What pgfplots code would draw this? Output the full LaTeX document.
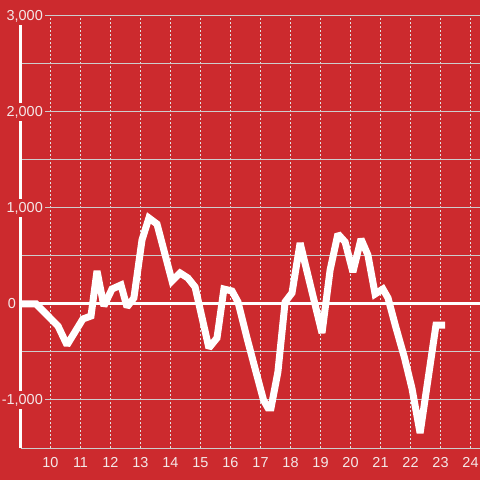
\documentclass[border=0pt]{standalone}
\usepackage{pgfplots}
\pgfplotsset{compat=1.18}
\usepackage{fontspec}
\setmainfont{Liberation Sans}
\definecolor{bgred}{RGB}{204,42,46}
\definecolor{gridgray}{RGB}{205,205,205}
\definecolor{dotgray}{RGB}{225,225,225}
\definecolor{labelc}{RGB}{244,232,232}
\begin{document}
\begin{tikzpicture}
\fill[bgred] (-20.5bp,-32bp) rectangle (459.5bp,448bp);
\begin{axis}[
    at={(0,0)}, anchor=south west,
    scale only axis,
    width=459.5bp, height=432bp,
    xmin=9, xmax=24.3167,
    ymin=-1500, ymax=3000,
    axis lines*=left,
    x axis line style={gridgray, line width=1bp},
    y axis line style={white, line width=3bp},
    tick style={draw=none},
    xtick={10,...,24},
    xticklabels={10,11,12,13,14,15,16,17,18,19,20,21,22,23,24},
    ytick={-1000,1000,2000,3000},
    yticklabels={{-1,000},{1,000},{2,000},{3,000}},
    minor ytick={-500,500,1500,2500},
    extra y ticks={0},
    extra y tick labels={0},
    extra tick style={
        y grid style={white, line width=3bp, solid},
        yticklabel style={xshift=-27bp},
    },
    xmajorgrids, ymajorgrids, yminorgrids,
    y grid style={gridgray, line width=1bp},
    x grid style={dotgray, line width=1bp, dash pattern=on 2bp off 2bp},
    tick label style={font=\fontsize{14.5}{17}\selectfont, text=labelc},
    xticklabel style={anchor=north, inner sep=0pt, yshift=-9bp},
    yticklabel style={anchor=east, fill=bgred, inner xsep=2bp, inner ysep=3bp, xshift=24.5bp},
]
\addplot[white, line width=7bp, line join=miter, miter limit=2] coordinates {
(9.00,0) (9.52,0) (10.25,-229) (10.55,-427) (11.08,-156) (11.35,-125)
(11.55,344) (11.78,-21) (12.05,156) (12.35,198) (12.55,-31) (12.78,63)
(13.05,667) (13.28,896) (13.55,833) (14.05,240) (14.32,323) (14.58,271)
(14.82,177) (15.28,-458) (15.55,-354) (15.78,156) (16.05,135) (16.25,21)
(16.55,-354) (16.80,-650) (17.10,-1000) (17.25,-1083) (17.35,-1083)
(17.58,-708) (17.82,21) (18.05,115) (18.32,635) (19.05,-302) (19.32,354)
(19.58,729) (19.82,646) (20.08,333) (20.35,677) (20.58,510) (20.82,104)
(21.08,156) (21.25,63) (21.50,-230) (21.80,-560) (22.05,-880) (22.32,-1344)
(22.85,-219) (23.15,-219)
};
\end{axis}
\pgfresetboundingbox
\path (-20.5bp,-32bp) rectangle (459.5bp,448bp);
\end{tikzpicture}
\end{document}
